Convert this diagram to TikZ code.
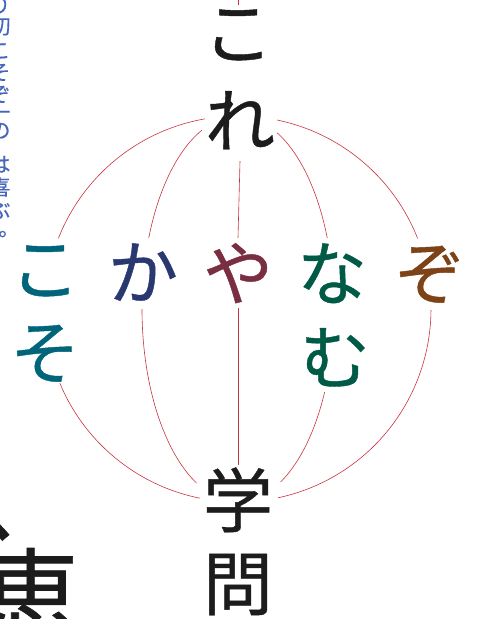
\documentclass[tikz,border=0pt]{standalone}
\usepackage{fontspec}
\setmainfont{Noto Sans CJK JP}
\newfontfamily\kanafont{Noto Sans CJK JP}[FakeBold=0.6]
\newfontfamily\sidefont{Noto Sans CJK JP}[FakeBold=0.4]
\usetikzlibrary{positioning}
\definecolor{inkblack}{RGB}{28,28,28}
\definecolor{globered}{RGB}{200,50,62}
\definecolor{kosoteal}{RGB}{0,101,122}
\definecolor{kanavy}{RGB}{42,56,112}
\definecolor{yamaroon}{RGB}{122,46,66}
\definecolor{namugreen}{RGB}{0,90,70}
\definecolor{zobrown}{RGB}{125,66,22}
\definecolor{sideblue}{RGB}{70,102,188}

\begin{document}
\begin{tikzpicture}[x=1pt, y=-1pt,
    kana/.style={inner sep=0pt, text height=61.6pt, text depth=8.4pt, font=\kanafont\fontsize{70}{70}\selectfont},
    side/.style={inner sep=0pt, text height=18.5pt, text depth=2.5pt, font=\sidefont\fontsize{21}{21}\selectfont, text=sideblue},
    big/.style={inner sep=0pt, text height=88pt, text depth=12pt, font=\kanafont\fontsize{100}{100}\selectfont, text=inkblack},
    meridian/.style={draw=globered, line width=0.6pt}
]
\useasboundingbox (0,0) rectangle (481,619);

% the sentence column and the particles
\node[kana, text=inkblack] (ko) at (238,32) {こ};
\node[kana, text=inkblack] (re) at (240,120) {れ};
\node[kana, text=kosoteal] (kotop) at (45,268) {こ};
\node[kana, text=kosoteal] (so) at (45,352) {そ};
\node[kana, text=kanavy] (ka) at (143,272) {か};
\node[kana, text=yamaroon] (ya) at (238,273) {や};
\node[kana, text=namugreen] (na) at (332,273) {な};
\node[kana, text=namugreen] (mu) at (335,357) {む};
\node[kana, text=zobrown] (zo) at (430,273) {ぞ};
\node[kana, text=inkblack] (gaku) at (238,500) {学};
\node[kana, text=inkblack] (mon) at (238,583) {問};

% cut-off text at the left edge
\foreach \y/\c [count=\i] in {5/り,26/初,50/こ,72/そ,94/ぞ,112/一,130/の,164/は,187/喜,210/ぶ}
  \node[side] (side\i) at (0,\y) {\c};
\node[side] (sidestop) at (9,228) {。};
\node[big] (comma) at (25,497) {、};
\node[big] (megumi) at (31,594) {恵};

% globe
\draw[meridian] (ko.north) -- ++(0,8);
\draw[meridian] ([yshift=-6pt]re.south) -- (ya.north);
\draw[meridian] (ya.south) -- (gaku.north);
\draw[meridian] plot[domain=99.9:158.5, samples=40] ({238+193*cos(\x)}, {309-193*sin(\x)});
\draw[meridian] plot[domain=202.6:258.6, samples=40] ({238+193*cos(\x)}, {309-193*sin(\x)});
\draw[meridian] plot[domain=21.5:78.3, samples=40] ({238+193*cos(\x)}, {309-193*sin(\x)});
\draw[meridian] plot[domain=-78:-0.3, samples=40] ({238+193*cos(\x)}, {309-193*sin(\x)});
\draw[meridian] plot[domain=112:158.4, samples=40] ({238+96*cos(\x)}, {309-193*sin(\x)});
\draw[meridian] plot[domain=180:244.4, samples=40] ({238+96*cos(\x)}, {309-193*sin(\x)});
\draw[meridian] plot[domain=21.6:65.8, samples=40] ({238+96*cos(\x)}, {309-193*sin(\x)});
\draw[meridian] plot[domain=-63.7:-25.5, samples=40] ({238+96*cos(\x)}, {309-193*sin(\x)});
\end{tikzpicture}
\end{document}
